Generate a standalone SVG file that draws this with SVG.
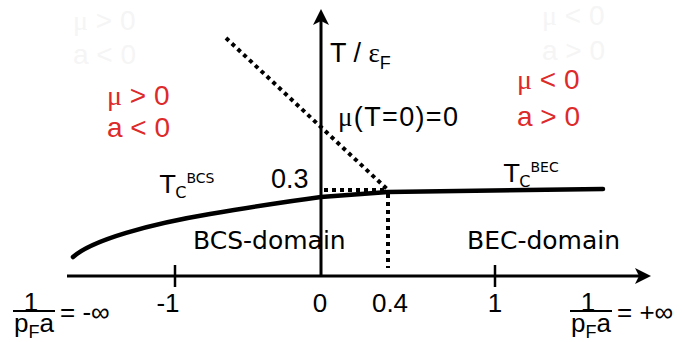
<svg xmlns="http://www.w3.org/2000/svg" width="682" height="342" viewBox="0 0 682 342">
<style>
.ax{stroke:#000;stroke-width:3;fill:none}
.tick{stroke:#000;stroke-width:2.5}
.dot{stroke:#000;stroke-width:4;stroke-dasharray:4 4;fill:none}
.cur{stroke:#000;stroke-width:4.5;fill:none;stroke-linecap:round}
.ar{font-family:"Liberation Sans",Arial,sans-serif;fill:#000}
.dv{font-family:"DejaVu Sans",Verdana,sans-serif;fill:#000}
.gr{font-family:"Liberation Serif",serif}
.red{font-family:"Liberation Sans",Arial,sans-serif;fill:#dd2a2a;font-size:28px}
.ghost{font-family:"Liberation Sans",Arial,sans-serif;fill:#f5f5f5;font-size:28px}
</style>
<rect width="682" height="342" fill="#fff"/>
<g id="ghost-labels">
<text class="ghost" x="73" y="30"><tspan class="gr">μ</tspan> &gt; 0</text>
<text class="ghost" x="73" y="64">a &lt; 0</text>
<text class="ghost" x="542" y="25"><tspan class="gr">μ</tspan> &lt; 0</text>
<text class="ghost" x="542" y="60">a &gt; 0</text>
</g>
<g id="connectors">
<line class="ax" x1="67" y1="276" x2="642" y2="276"/>
<path d="M651,276 L635,268 L639,276 L635,284 Z" fill="#000"/>
<line class="ax" x1="321" y1="276" x2="321" y2="18"/>
<path d="M321,9 L313,25 L321,21 L329,25 Z" fill="#000"/>
<line class="tick" x1="175" y1="265" x2="175" y2="287"/>
<line class="tick" x1="495" y1="265" x2="495" y2="287"/>
<path class="cur" d="M73,257 C92,240 150,224 210,214 S290,201 321,197 L388,192 L603,189"/>
<line class="dot" x1="226" y1="38" x2="388" y2="190"/>
<line class="dot" x1="324" y1="190" x2="388" y2="190"/>
<line class="dot" x1="388" y1="194" x2="388" y2="268"/>
</g>
<g id="axis-y-label">
<text class="ar" x="330" y="62" font-size="27">T / <tspan class="gr">ε</tspan><tspan font-size="18" dy="7">F</tspan></text>
</g>
<g id="mu-zero-label">
<text class="ar" x="338" y="126" font-size="27" textLength="120" lengthAdjust="spacing"><tspan class="gr">μ</tspan>(T=0)=0</text>
</g>
<g id="bcs-region">
<text class="red" x="107" y="105"><tspan class="gr">μ</tspan> &gt; 0</text>
<text class="red" x="107" y="137">a &lt; 0</text>
</g>
<g id="bec-region">
<text class="red" x="517" y="89"><tspan class="gr">μ</tspan> &lt; 0</text>
<text class="red" x="517" y="126">a &gt; 0</text>
</g>
<g id="tc-bcs">
<text class="dv" x="160" y="193" font-size="25">T<tspan font-size="16" dy="5">C</tspan><tspan font-size="14" dy="-15">BCS</tspan></text>
</g>
<g id="tc-bec">
<text class="dv" x="504" y="182" font-size="25">T<tspan font-size="16" dy="5">C</tspan><tspan font-size="14" dy="-15">BEC</tspan></text>
</g>
<g id="val-03"><text class="ar" x="271" y="188" font-size="27">0.3</text></g>
<g id="bcs-domain"><text class="dv" x="193" y="249" font-size="25">BCS-domain</text></g>
<g id="bec-domain"><text class="dv" x="467" y="249" font-size="25">BEC-domain</text></g>
<g id="tick-labels" class="ar" font-size="26" text-anchor="middle">
<text x="168" y="312">-1</text>
<text x="320" y="312">0</text>
<text x="390" y="312">0.4</text>
<text x="495" y="312">1</text>
</g>
<g id="left-limit">
<text class="ar" x="31" y="311" font-size="26" text-anchor="middle">1</text>
<line x1="13" y1="311" x2="55" y2="311" stroke="#000" stroke-width="2"/>
<text class="ar" x="14" y="332" font-size="26">p<tspan font-size="18" dy="6">F</tspan><tspan dy="-6">a</tspan></text>
<text class="ar" x="60" y="321" font-size="26">= -∞</text>
</g>
<g id="right-limit">
<text class="ar" x="588" y="311" font-size="26" text-anchor="middle">1</text>
<line x1="570" y1="311" x2="612" y2="311" stroke="#000" stroke-width="2"/>
<text class="ar" x="571" y="332" font-size="26">p<tspan font-size="18" dy="6">F</tspan><tspan dy="-6">a</tspan></text>
<text class="ar" x="617" y="321" font-size="26">= +∞</text>
</g>
</svg>
